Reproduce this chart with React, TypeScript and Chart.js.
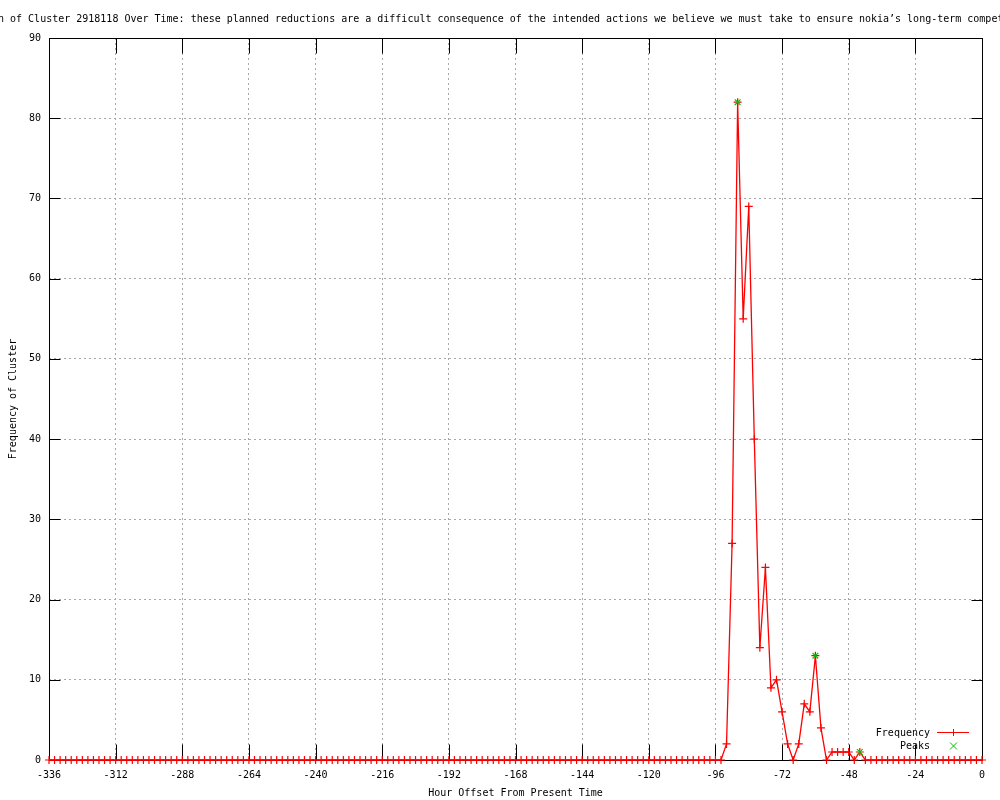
import React, { useEffect, useRef } from "react";
import { Chart, registerables } from "chart.js";

Chart.register(...registerables);

const TITLE =
  "Distribution of Cluster 2918118 Over Time: these planned reductions are a difficult consequence of the intended actions we believe we must take to ensure nokia\u2019s long-term competitiveness";
const TITLE_HIDDEN_PREFIX = "Distributio";
const X_TITLE = "Hour Offset From Present Time";
const Y_TITLE = "Frequency of Cluster";
const SERIES_NAME = "Frequency";
const PEAKS_NAME = "Peaks";

const HOURS = [
  -336, -334, -332, -330, -328, -326, -324, -322, -320, -318, -316, -314,
  -312, -310, -308, -306, -304, -302, -300, -298, -296, -294, -292, -290,
  -288, -286, -284, -282, -280, -278, -276, -274, -272, -270, -268, -266,
  -264, -262, -260, -258, -256, -254, -252, -250, -248, -246, -244, -242,
  -240, -238, -236, -234, -232, -230, -228, -226, -224, -222, -220, -218,
  -216, -214, -212, -210, -208, -206, -204, -202, -200, -198, -196, -194,
  -192, -190, -188, -186, -184, -182, -180, -178, -176, -174, -172, -170,
  -168, -166, -164, -162, -160, -158, -156, -154, -152, -150, -148, -146,
  -144, -142, -140, -138, -136, -134, -132, -130, -128, -126, -124, -122,
  -120, -118, -116, -114, -112, -110, -108, -106, -104, -102, -100, -98,
  -96, -94, -92, -90, -88, -86, -84, -82, -80, -78, -76, -74,
  -72, -70, -68, -66, -64, -62, -60, -58, -56, -54, -52, -50,
  -48, -46, -44, -42, -40, -38, -36, -34, -32, -30, -28, -26,
  -24, -22, -20, -18, -16, -14, -12, -10, -8, -6, -4, -2,
  0,
];

const FREQUENCY = [
  0, 0, 0, 0, 0, 0, 0, 0, 0, 0, 0, 0,
  0, 0, 0, 0, 0, 0, 0, 0, 0, 0, 0, 0,
  0, 0, 0, 0, 0, 0, 0, 0, 0, 0, 0, 0,
  0, 0, 0, 0, 0, 0, 0, 0, 0, 0, 0, 0,
  0, 0, 0, 0, 0, 0, 0, 0, 0, 0, 0, 0,
  0, 0, 0, 0, 0, 0, 0, 0, 0, 0, 0, 0,
  0, 0, 0, 0, 0, 0, 0, 0, 0, 0, 0, 0,
  0, 0, 0, 0, 0, 0, 0, 0, 0, 0, 0, 0,
  0, 0, 0, 0, 0, 0, 0, 0, 0, 0, 0, 0,
  0, 0, 0, 0, 0, 0, 0, 0, 0, 0, 0, 0,
  0, 0, 2, 27, 82, 55, 69, 40, 14, 24, 9, 10,
  6, 2, 0, 2, 7, 6, 13, 4, 0, 1, 1, 1,
  1, 0, 1, 0, 0, 0, 0, 0, 0, 0, 0, 0,
  0, 0, 0, 0, 0, 0, 0, 0, 0, 0, 0, 0,
  0,
];

const PEAK_HOURS = [-88, -60, -44];
const PEAK_VALUES = [82, 13, 1];

const X_TICKS = [-336, -312, -288, -264, -240, -216, -192, -168, -144, -120, -96, -72, -48, -24, 0];
const Y_TICKS = [0, 10, 20, 30, 40, 50, 60, 70, 80, 90];

const FAMILY = "'DejaVu Sans Mono', monospace";
const FONT = `10px ${FAMILY}`;
const RED = "#ff0000";
const GREEN = "#00c000";

const gnuplotPlugin = {
  id: "gnuplotDecor",
  beforeDatasetsDraw(chart: any) {
    const { ctx, chartArea: a, scales } = chart;
    const x = scales.x;
    const y = scales.y;
    const L = Math.round(a.left) + 0.5;
    const R = Math.round(a.right) + 0.5;
    const T = Math.round(a.top) + 0.5;
    const B = Math.round(a.bottom) + 0.5;
    ctx.save();
    ctx.strokeStyle = "#000";
    ctx.lineWidth = 1;
    ctx.setLineDash([]);
    ctx.beginPath();
    for (const t of X_TICKS) {
      const px = Math.round(x.getPixelForValue(t)) + 0.5;
      ctx.moveTo(px, B);
      ctx.lineTo(px, B - 16);
      ctx.moveTo(px, T);
      ctx.lineTo(px, T + 15);
    }
    for (const t of Y_TICKS) {
      const py = Math.round(y.getPixelForValue(t)) + 0.5;
      ctx.moveTo(L, py);
      ctx.lineTo(L + 11, py);
      ctx.moveTo(R, py);
      ctx.lineTo(R - 11, py);
    }
    ctx.stroke();
    ctx.strokeRect(L, T, R - L, B - T);
    ctx.restore();
  },
  afterDraw(chart: any) {
    const { ctx, chartArea: a } = chart;
    ctx.save();
    ctx.font = FONT;
    ctx.fillStyle = "#000";
    ctx.textBaseline = "middle";

    ctx.textAlign = "left";
    const hidden = ctx.measureText(TITLE_HIDDEN_PREFIX).width;
    ctx.fillText(TITLE, -2 - hidden, 19);

    ctx.textAlign = "center";
    ctx.fillText(X_TITLE, (a.left + a.right) / 2, 793);

    ctx.save();
    ctx.translate(13, (a.top + a.bottom) / 2);
    ctx.rotate(-Math.PI / 2);
    ctx.textAlign = "center";
    ctx.fillText(Y_TITLE, 0, 0);
    ctx.restore();

    ctx.textAlign = "right";
    ctx.fillText(SERIES_NAME, 930, 733);
    ctx.fillText(PEAKS_NAME, 930, 746);
    ctx.lineWidth = 1;
    ctx.strokeStyle = RED;
    ctx.beginPath();
    ctx.moveTo(937, 732.5);
    ctx.lineTo(969, 732.5);
    ctx.moveTo(953.5, 729);
    ctx.lineTo(953.5, 736);
    ctx.stroke();
    ctx.strokeStyle = GREEN;
    ctx.beginPath();
    ctx.moveTo(950, 742.5);
    ctx.lineTo(957, 749.5);
    ctx.moveTo(957, 742.5);
    ctx.lineTo(950, 749.5);
    ctx.stroke();
    ctx.restore();
  },
};

export default function App() {
  const ref = useRef<HTMLCanvasElement | null>(null);

  useEffect(() => {
    if (!ref.current) return;
    const chart = new Chart(ref.current, {
      type: "line",
      data: {
        datasets: [
          {
            label: PEAKS_NAME,
            data: PEAK_HOURS.map((h, i) => ({ x: h, y: PEAK_VALUES[i] })),
            showLine: false,
            pointStyle: "crossRot",
            pointRadius: 4,
            pointBorderWidth: 1.2,
            pointBorderColor: GREEN,
            borderColor: GREEN,
            backgroundColor: GREEN,
            clip: false,
            order: 0,
          } as any,
          {
            label: SERIES_NAME,
            data: HOURS.map((h, i) => ({ x: h, y: FREQUENCY[i] })),
            borderColor: RED,
            borderWidth: 1.3,
            backgroundColor: RED,
            pointStyle: "cross",
            pointRadius: 4,
            pointBorderWidth: 1.2,
            pointBorderColor: RED,
            tension: 0,
            fill: false,
            clip: false,
            order: 1,
          } as any,
        ],
      },
      options: {
        responsive: false,
        animation: false,
        devicePixelRatio: 1,
        events: [],
        layout: { padding: { left: 0, right: 18, top: 38, bottom: 0 } },
        plugins: {
          legend: { display: false },
          title: { display: false },
          tooltip: { enabled: false },
        },
        scales: {
          x: {
            type: "linear",
            min: -336,
            max: 0,
            afterFit: (s: any) => {
              s.height = 40;
            },
            afterBuildTicks: (s: any) => {
              s.ticks = X_TICKS.map((v) => ({ value: v }));
            },
            ticks: {
              stepSize: 24,
              autoSkip: false,
              maxRotation: 0,
              minRotation: 0,
              padding: 9,
              color: "#000",
              font: { family: FAMILY, size: 10 },
              callback: (v: any) => String(v),
            },
            grid: {
              color: "#a8a8a8",
              lineWidth: 1,
              drawTicks: false,
            },
            border: { display: false, dash: [2, 3] },
          },
          y: {
            type: "linear",
            min: 0,
            max: 90,
            afterFit: (s: any) => {
              s.width = 49;
            },
            afterBuildTicks: (s: any) => {
              s.ticks = Y_TICKS.map((v) => ({ value: v }));
            },
            ticks: {
              stepSize: 10,
              autoSkip: false,
              padding: 8,
              color: "#000",
              font: { family: FAMILY, size: 10 },
              callback: (v: any) => String(v),
            },
            grid: {
              color: "#a8a8a8",
              lineWidth: 1,
              drawTicks: false,
            },
            border: { display: false, dash: [2, 3] },
          },
        },
      },
      plugins: [gnuplotPlugin],
    });
    return () => chart.destroy();
  }, []);

  return (
    <div style={{ position: "absolute", left: 0, top: 0, width: 1000, height: 800, background: "#fff" }}>
      <canvas ref={ref} width={1000} height={800} style={{ display: "block", width: 1000, height: 800 }} />
    </div>
  );
}
